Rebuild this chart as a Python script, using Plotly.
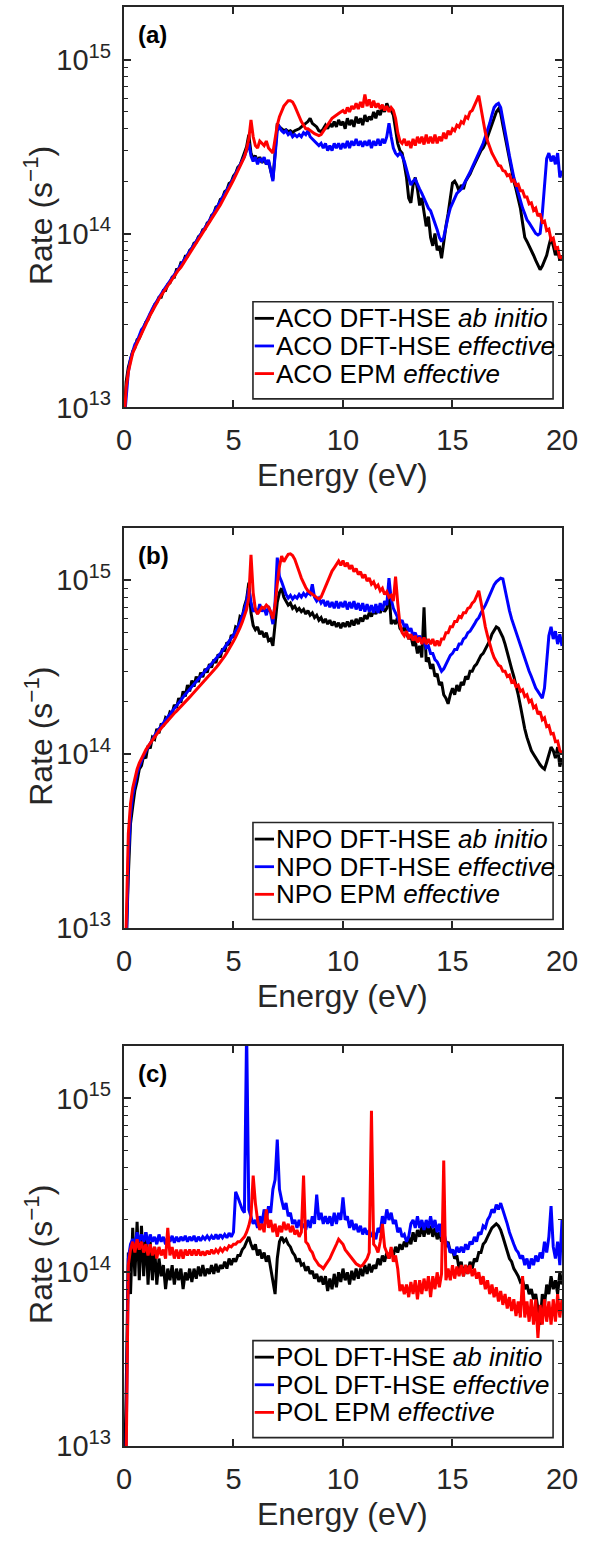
import math
import plotly.graph_objects as go

# Energy grid (eV), 0.1 eV steps from 0 to 20
ENERGY = [round(0.1 * i, 1) for i in range(201)]

# Scattering rates in units of 1e14 s^-1, one row per eV (x.0 ... x.9)
ACO_ABINITIO = [
    0.08, 0.14, 0.17, 0.19, 0.21, 0.22, 0.245, 0.25, 0.27, 0.285,
    0.31, 0.32, 0.345, 0.36, 0.39, 0.40, 0.43, 0.43, 0.47, 0.47,
    0.51, 0.52, 0.56, 0.56, 0.62, 0.62, 0.68, 0.68, 0.74, 0.74,
    0.80, 0.82, 0.88, 0.89, 0.96, 0.98, 1.05, 1.06, 1.15, 1.17,
    1.27, 1.30, 1.42, 1.44, 1.57, 1.60, 1.74, 1.78, 1.94, 1.98,
    2.14, 2.22, 2.40, 2.48, 2.68, 2.85, 3.15, 3.70, 2.90, 2.70,
    2.80, 2.60, 2.75, 2.55, 2.70, 2.50, 2.60, 2.30, 2.05, 2.90,
    4.30, 4.10, 4.00, 3.90, 3.95, 3.85, 3.90, 3.80, 3.90, 3.95,
    4.00, 4.10, 4.20, 4.30, 4.40, 4.60, 4.30, 4.20, 4.10, 3.90,
    3.85, 4.00, 4.20, 4.00, 4.30, 4.10, 4.40, 4.10, 4.50, 4.20,
    4.40, 4.00, 4.60, 4.20, 4.50, 4.10, 4.70, 4.30, 4.60, 4.20,
    4.80, 4.40, 4.70, 4.50, 5.00, 4.60, 5.10, 4.80, 5.30, 5.00,
    5.60, 5.20, 5.10, 4.80, 4.00, 3.30, 3.00, 2.90, 2.50, 2.10,
    1.60, 1.50, 1.90, 2.10, 1.80, 1.45, 1.60, 1.30, 1.10, 1.25,
    0.95, 0.85, 1.00, 0.80, 0.85, 0.72, 0.90, 1.10, 1.30, 1.60,
    1.95, 2.00, 1.90, 1.75, 1.90, 1.80, 2.00, 2.10, 2.20, 2.35,
    2.50, 2.60, 2.80, 3.00, 3.10, 3.30, 3.60, 3.90, 4.30, 4.70,
    5.00, 5.20, 4.90, 4.20, 3.60, 3.10, 2.70, 2.30, 2.00, 1.80,
    1.60, 1.40, 1.15, 0.95, 0.90, 0.85, 0.80, 0.75, 0.70, 0.65,
    0.62, 0.65, 0.70, 0.75, 0.85, 0.95, 0.85, 0.75, 0.80, 0.70,
    0.75,
]
ACO_EFFECTIVE = [
    0.08, 0.12, 0.16, 0.19, 0.21, 0.23, 0.24, 0.26, 0.28, 0.29,
    0.31, 0.33, 0.35, 0.37, 0.39, 0.41, 0.43, 0.45, 0.47, 0.49,
    0.51, 0.53, 0.55, 0.58, 0.60, 0.63, 0.66, 0.69, 0.72, 0.75,
    0.78, 0.82, 0.86, 0.90, 0.94, 0.98, 1.03, 1.08, 1.13, 1.19,
    1.25, 1.31, 1.38, 1.45, 1.52, 1.60, 1.68, 1.77, 1.87, 1.97,
    2.08, 2.20, 2.32, 2.45, 2.60, 2.78, 3.00, 3.30, 2.80, 2.60,
    2.75, 2.50, 2.70, 2.60, 2.75, 2.50, 2.65, 2.30, 2.00, 2.80,
    3.90, 4.10, 3.90, 3.80, 3.90, 3.70, 3.80, 3.60, 3.70, 3.60,
    3.70, 3.60, 3.80, 3.70, 3.90, 3.60, 3.50, 3.40, 3.30, 3.20,
    3.30, 3.10, 3.30, 3.00, 3.20, 3.00, 3.30, 3.10, 3.30, 3.05,
    3.30, 3.10, 3.40, 3.10, 3.40, 3.20, 3.50, 3.20, 3.40, 3.15,
    3.40, 3.20, 3.45, 3.10, 3.40, 3.20, 3.50, 3.20, 3.50, 3.30,
    3.60, 4.30, 3.60, 3.10, 2.90, 2.80, 2.90, 2.80, 2.60, 2.30,
    2.10, 1.90, 2.00, 2.05, 1.90, 1.80, 1.70, 1.60, 1.50, 1.40,
    1.35, 1.25, 1.15, 1.05, 0.95, 0.90, 0.95, 1.10, 1.25, 1.40,
    1.50, 1.60, 1.70, 1.75, 1.80, 1.90, 2.00, 2.10, 2.25, 2.40,
    2.55, 2.70, 2.90, 3.10, 3.30, 3.60, 3.90, 4.30, 4.80, 5.30,
    5.50, 5.60, 5.30, 4.60, 3.90, 3.30, 2.80, 2.40, 2.10, 1.90,
    1.70, 1.55, 1.40, 1.30, 1.20, 1.15, 1.10, 1.05, 1.00, 0.98,
    1.00, 1.30, 2.00, 2.70, 2.90, 2.60, 2.80, 2.50, 2.90, 2.10,
    2.30,
]
ACO_EPM = [
    0.08, 0.13, 0.16, 0.185, 0.205, 0.22, 0.235, 0.25, 0.265, 0.28,
    0.30, 0.32, 0.34, 0.36, 0.38, 0.40, 0.42, 0.44, 0.46, 0.48,
    0.50, 0.52, 0.54, 0.57, 0.59, 0.62, 0.64, 0.67, 0.70, 0.73,
    0.76, 0.80, 0.83, 0.87, 0.91, 0.95, 1.00, 1.04, 1.09, 1.14,
    1.20, 1.26, 1.32, 1.39, 1.46, 1.54, 1.62, 1.71, 1.81, 1.92,
    2.03, 2.15, 2.28, 2.42, 2.58, 2.75, 3.05, 3.50, 4.50, 3.60,
    3.20, 3.10, 3.40, 3.30, 3.20, 3.40, 3.10, 3.00, 2.90, 3.50,
    4.20, 4.70, 5.10, 5.40, 5.60, 5.80, 5.80, 5.70, 5.40, 5.00,
    4.70, 4.40, 4.20, 4.00, 4.00, 3.90, 3.80, 3.75, 3.70, 3.65,
    3.70, 3.85, 4.00, 4.20, 4.40, 4.60, 4.70, 4.85, 4.90, 5.00,
    5.10, 4.90, 5.30, 5.00, 5.40, 5.20, 5.60, 5.20, 5.70, 5.30,
    6.30, 5.40, 5.90, 5.30, 5.80, 5.30, 5.60, 5.20, 5.50, 5.10,
    5.40, 5.00, 5.30, 5.10, 4.60, 3.80, 3.40, 3.30, 3.50, 3.20,
    3.40, 3.10, 3.50, 3.20, 3.60, 3.30, 3.60, 3.25, 3.70, 3.30,
    3.60, 3.30, 3.70, 3.30, 3.60, 3.40, 3.80, 3.50, 3.90, 3.70,
    4.00, 3.90, 4.20, 4.10, 4.40, 4.30, 4.70, 4.60, 5.00, 5.10,
    5.50, 5.80, 6.20, 5.20, 4.40, 3.80, 3.40, 3.10, 2.90, 2.75,
    2.62, 2.46, 2.44, 2.30, 2.28, 2.15, 2.18, 2.00, 2.03, 1.90,
    1.92, 1.76, 1.76, 1.62, 1.62, 1.48, 1.50, 1.36, 1.40, 1.26,
    1.30, 1.16, 1.18, 1.04, 1.06, 0.92, 0.94, 0.82, 0.83, 0.72,
    0.74,
]

NPO_ABINITIO = [
    0.05, 0.08, 0.20, 0.40, 0.50, 0.62, 0.70, 0.82, 0.86, 0.98,
    0.95, 1.12, 1.08, 1.25, 1.22, 1.40, 1.32, 1.50, 1.45, 1.62,
    1.58, 1.75, 1.72, 1.92, 1.85, 2.10, 1.98, 2.30, 2.15, 2.50,
    2.30, 2.65, 2.45, 2.80, 2.60, 2.95, 2.78, 3.10, 2.95, 3.30,
    3.15, 3.50, 3.35, 3.75, 3.60, 4.05, 3.90, 4.40, 4.25, 4.85,
    4.70, 5.40, 5.30, 6.20, 6.10, 7.10, 7.80, 9.70, 6.50, 5.50,
    5.20, 5.40, 4.90, 5.10, 4.70, 5.00, 4.50, 4.60, 4.20, 5.50,
    7.50, 8.50, 9.00, 8.00, 7.60, 7.20, 7.40, 6.90, 7.10, 6.70,
    6.90, 6.60, 6.80, 6.40, 6.70, 6.30, 6.50, 6.10, 6.30, 5.90,
    6.10, 5.70, 6.00, 5.60, 5.90, 5.50, 5.80, 5.40, 5.70, 5.30,
    5.70, 5.40, 5.80, 5.40, 5.90, 5.50, 6.00, 5.60, 6.10, 5.80,
    6.30, 6.00, 6.50, 6.20, 6.70, 6.40, 6.90, 6.50, 7.00, 6.60,
    6.90, 8.80, 5.60, 5.90, 5.60, 6.20, 5.30, 5.10, 5.40, 4.90,
    4.60, 4.80, 4.20, 4.50, 3.80, 4.20, 3.60, 7.00, 3.40, 3.60,
    3.10, 3.30, 2.80, 2.90, 2.50, 2.60, 2.20, 2.10, 1.95, 2.20,
    2.40, 2.20, 2.50, 2.30, 2.60, 2.50, 2.80, 2.70, 3.00, 3.00,
    3.20, 3.30, 3.50, 3.70, 3.80, 4.00, 4.20, 4.50, 4.90, 5.20,
    5.40, 5.30, 5.00, 4.70, 4.30, 3.90, 3.50, 3.10, 2.80, 2.50,
    2.20, 1.90, 1.60, 1.40, 1.25, 1.15, 1.05, 1.00, 0.95, 0.90,
    0.87, 0.84, 0.82, 0.90, 1.00, 1.10, 1.05, 0.95, 1.10, 0.85,
    0.95,
]
NPO_EFFECTIVE = [
    0.05, 0.07, 0.25, 0.45, 0.58, 0.68, 0.78, 0.85, 0.92, 0.98,
    1.04, 1.10, 1.16, 1.22, 1.28, 1.34, 1.40, 1.46, 1.52, 1.58,
    1.64, 1.70, 1.77, 1.84, 1.91, 1.98, 2.05, 2.13, 2.21, 2.29,
    2.37, 2.45, 2.53, 2.62, 2.71, 2.80, 2.90, 3.00, 3.10, 3.20,
    3.30, 3.42, 3.54, 3.67, 3.80, 3.95, 4.10, 4.27, 4.45, 4.65,
    4.85, 5.10, 5.40, 5.75, 6.20, 6.80, 7.60, 9.00, 7.50, 6.60,
    6.90, 6.40, 7.30, 6.60, 7.00, 6.30, 7.10, 6.50, 5.60, 7.50,
    13.5, 10.5, 9.80, 9.00, 8.30, 7.90, 8.20, 7.80, 8.10, 7.90,
    8.30, 8.00, 8.40, 8.10, 8.50, 8.30, 9.50, 8.00, 7.60, 7.90,
    7.40, 7.70, 7.10, 7.60, 7.00, 7.50, 6.90, 7.60, 6.90, 7.50,
    7.00, 7.60, 6.80, 7.50, 6.90, 7.60, 6.80, 7.40, 6.70, 7.40,
    6.60, 7.30, 6.60, 7.20, 6.50, 7.30, 6.50, 7.40, 6.70, 7.60,
    7.20, 10.3, 7.80, 6.90, 6.40, 6.10, 5.70, 5.90, 5.40, 5.60,
    5.10, 5.30, 4.80, 5.00, 4.60, 4.80, 4.40, 4.50, 4.10, 4.20,
    3.80, 3.80, 3.50, 3.40, 3.20, 3.00, 3.10, 3.30, 3.50, 3.70,
    3.80, 4.00, 4.00, 4.30, 4.30, 4.60, 4.70, 5.00, 5.10, 5.40,
    5.60, 5.90, 6.10, 6.50, 6.80, 7.20, 7.70, 8.30, 8.90, 9.40,
    9.80, 10.1, 10.3, 10.2, 8.80, 7.60, 6.70, 6.00, 5.50, 5.00,
    4.60, 4.20, 3.80, 3.50, 3.20, 3.00, 2.80, 2.60, 2.40, 2.30,
    2.20, 2.10, 2.40, 3.60, 4.80, 5.40, 4.60, 5.10, 4.30, 4.90,
    4.20,
]
NPO_EPM = [
    0.05, 0.10, 0.35, 0.52, 0.64, 0.73, 0.82, 0.89, 0.95, 1.00,
    1.06, 1.11, 1.16, 1.21, 1.26, 1.31, 1.36, 1.41, 1.46, 1.51,
    1.56, 1.61, 1.66, 1.72, 1.77, 1.83, 1.89, 1.95, 2.01, 2.07,
    2.13, 2.20, 2.27, 2.34, 2.41, 2.49, 2.57, 2.65, 2.74, 2.83,
    2.93, 3.03, 3.14, 3.26, 3.38, 3.52, 3.67, 3.84, 4.02, 4.23,
    4.46, 4.72, 5.00, 5.35, 5.75, 6.20, 6.80, 8.00, 14.0, 8.50,
    6.80, 6.40, 6.70, 7.00, 6.90, 7.20, 7.00, 6.60, 6.00, 7.20,
    9.50, 12.0, 13.8, 12.8, 13.5, 14.1, 14.2, 13.9, 13.2, 12.3,
    11.2, 10.3, 9.60, 9.10, 8.70, 8.50, 8.30, 8.10, 7.90, 7.80,
    8.00, 8.60, 9.30, 10.0, 10.7, 11.3, 11.8, 12.3, 12.9, 12.2,
    13.0, 12.0, 12.6, 11.6, 12.2, 11.2, 11.7, 10.8, 11.2, 10.3,
    10.8, 9.90, 10.3, 9.50, 9.80, 9.10, 9.40, 8.70, 9.00, 8.30,
    8.60, 8.00, 8.20, 7.60, 10.5, 7.40, 5.60, 5.00, 4.80, 5.10,
    4.60, 4.90, 4.50, 4.80, 4.40, 4.70, 4.30, 4.70, 4.30, 4.60,
    4.30, 4.60, 4.20, 4.50, 4.20, 4.60, 4.60, 5.00, 5.00, 5.40,
    5.40, 5.80, 5.80, 6.20, 6.10, 6.50, 6.50, 6.90, 7.00, 7.40,
    7.60, 8.10, 8.70, 7.50, 6.30, 5.40, 4.80, 4.30, 3.90, 3.60,
    3.45, 3.25, 3.20, 3.00, 3.00, 2.80, 2.85, 2.60, 2.65, 2.45,
    2.50, 2.30, 2.35, 2.15, 2.20, 2.00, 2.05, 1.85, 1.90, 1.70,
    1.76, 1.58, 1.62, 1.44, 1.46, 1.31, 1.32, 1.18, 1.19, 1.05,
    1.02,
]

POL_ABINITIO = [
    0.05, 0.20, 1.30, 0.75, 1.80, 0.95, 1.95, 0.90, 1.85, 0.95,
    1.70, 0.85, 1.50, 0.90, 1.40, 0.85, 1.20, 0.95, 1.10, 0.80,
    1.05, 0.90, 1.10, 0.85, 1.05, 0.90, 1.05, 0.80, 1.00, 0.90,
    1.05, 0.88, 1.05, 0.92, 1.08, 0.95, 1.10, 0.95, 1.05, 0.98,
    1.10, 0.98, 1.12, 1.00, 1.10, 1.05, 1.15, 1.05, 1.20, 1.10,
    1.20, 1.15, 1.25, 1.25, 1.35, 1.40, 1.50, 1.60, 1.45, 1.35,
    1.45, 1.25, 1.35, 1.20, 1.30, 1.15, 1.25, 1.05, 0.90, 0.75,
    1.20, 1.50, 1.60, 1.50, 1.55, 1.45, 1.40, 1.30, 1.25, 1.15,
    1.20, 1.10, 1.12, 1.02, 1.08, 0.98, 1.02, 0.92, 0.98, 0.88,
    0.95, 0.85, 0.95, 0.78, 0.92, 0.80, 0.98, 0.82, 1.00, 0.88,
    1.05, 0.90, 1.00, 0.85, 1.02, 0.90, 1.05, 0.92, 1.05, 0.95,
    1.10, 0.98, 1.12, 1.00, 1.10, 1.05, 1.20, 1.10, 1.25, 1.15,
    1.30, 1.20, 1.35, 1.25, 1.40, 1.30, 1.45, 1.35, 1.50, 1.40,
    1.60, 1.45, 1.70, 1.50, 1.75, 1.60, 1.85, 1.60, 1.85, 1.65,
    1.85, 1.60, 1.80, 1.55, 1.70, 1.50, 1.60, 1.40, 1.50, 1.30,
    1.35, 1.20, 1.25, 1.05, 1.15, 0.95, 1.10, 0.98, 1.15, 1.05,
    1.20, 1.15, 1.30, 1.30, 1.45, 1.50, 1.60, 1.70, 1.80, 1.85,
    1.90, 1.85, 1.75, 1.60, 1.45, 1.35, 1.20, 1.15, 1.05, 1.00,
    0.95, 0.88, 0.90, 0.80, 0.85, 0.75, 0.80, 0.70, 0.75, 0.62,
    0.50, 0.75, 0.65, 0.85, 0.75, 0.95, 0.80, 0.90, 0.75, 1.00,
    0.85,
]
POL_EFFECTIVE = [
    0.05, 0.10, 1.20, 1.45, 1.55, 1.45, 1.70, 1.50, 1.65, 1.50,
    1.70, 1.45, 1.65, 1.50, 1.60, 1.45, 1.65, 1.50, 1.60, 1.45,
    1.60, 1.50, 1.62, 1.48, 1.60, 1.50, 1.60, 1.52, 1.62, 1.50,
    1.60, 1.52, 1.62, 1.50, 1.60, 1.52, 1.60, 1.55, 1.62, 1.55,
    1.62, 1.55, 1.65, 1.55, 1.65, 1.58, 1.65, 1.58, 1.68, 1.60,
    1.70, 2.90, 2.70, 2.50, 2.30, 2.20, 25.0, 2.30, 2.10, 1.90,
    2.00, 1.80, 2.10, 1.90, 2.30, 2.00, 2.40, 2.20, 3.00, 3.40,
    5.80, 3.00, 2.60, 2.30, 2.50, 2.10, 2.20, 1.90, 2.00, 1.80,
    2.00, 1.80, 1.90, 1.75, 2.00, 1.80, 2.10, 1.90, 2.80, 2.00,
    2.20, 1.90, 2.10, 1.90, 2.10, 1.85, 2.20, 1.90, 2.20, 2.00,
    2.70, 2.00, 2.10, 1.80, 2.00, 1.75, 1.90, 1.70, 1.85, 1.65,
    1.80, 1.65, 1.75, 1.60, 1.70, 1.55, 1.80, 1.70, 2.10, 1.90,
    2.30, 2.00, 2.20, 1.90, 2.00, 1.70, 1.80, 1.60, 1.65, 1.50,
    1.60, 1.90, 2.00, 1.80, 2.10, 1.80, 2.00, 1.75, 2.00, 1.80,
    2.10, 1.80, 2.00, 1.70, 1.90, 1.60, 1.70, 1.50, 1.45, 1.30,
    1.35, 1.25, 1.40, 1.30, 1.40, 1.30, 1.45, 1.35, 1.50, 1.45,
    1.60, 1.50, 1.70, 1.65, 1.85, 1.80, 2.00, 2.10, 2.30, 2.20,
    2.45, 2.30, 2.50, 2.30, 2.10, 1.90, 1.70, 1.55, 1.45, 1.35,
    1.30, 1.20, 1.25, 1.10, 1.20, 1.05, 1.20, 1.10, 1.25, 1.15,
    1.30, 1.20, 1.50, 1.30, 1.60, 2.40, 1.40, 1.20, 1.50, 1.10,
    2.00,
]
POL_EPM = [
    0.05, 0.08, 1.10, 1.35, 1.50, 1.30, 1.55, 1.35, 1.50, 1.30,
    1.45, 1.25, 1.45, 1.25, 1.40, 1.20, 1.40, 1.25, 1.35, 1.20,
    1.80, 1.25, 1.40, 1.20, 1.35, 1.20, 1.35, 1.20, 1.35, 1.25,
    1.35, 1.25, 1.35, 1.25, 1.35, 1.25, 1.32, 1.25, 1.33, 1.27,
    1.35, 1.28, 1.35, 1.30, 1.37, 1.32, 1.38, 1.35, 1.42, 1.40,
    1.45, 1.45, 1.50, 1.50, 1.55, 1.60, 1.70, 1.85, 2.10, 3.60,
    2.50, 2.00, 1.75, 1.90, 1.70, 2.30, 1.80, 2.00, 1.70, 1.90,
    1.60, 1.85, 1.70, 1.95, 1.75, 1.90, 1.70, 1.85, 1.65, 1.75,
    1.60, 1.70, 3.60, 1.50, 1.45, 1.35, 1.30, 1.20, 1.15, 1.10,
    1.08, 1.05, 1.10, 1.15, 1.20, 1.28, 1.35, 1.45, 1.55, 1.50,
    1.45, 1.35, 1.30, 1.25, 1.20, 1.15, 1.12, 1.10, 1.08, 1.10,
    1.15, 1.20, 1.30, 8.50, 1.45, 1.40, 1.30, 1.50, 1.90, 1.40,
    1.30, 1.20, 1.40, 1.15, 1.25, 1.05, 0.78, 0.85, 0.75, 0.85,
    0.72, 0.88, 0.75, 0.90, 0.70, 0.90, 0.75, 0.92, 0.78, 0.95,
    0.72, 0.95, 0.80, 1.00, 0.82, 0.98, 4.40, 0.90, 1.05, 0.90,
    1.10, 0.92, 1.08, 0.95, 1.10, 0.95, 1.10, 0.98, 1.10, 0.95,
    1.05, 0.92, 1.00, 0.85, 0.95, 0.80, 0.90, 0.75, 0.85, 0.72,
    0.82, 0.68, 0.78, 0.65, 0.75, 0.62, 0.72, 0.60, 0.70, 0.56,
    0.68, 0.55, 0.95, 0.55, 0.68, 0.52, 0.70, 0.50, 0.70, 0.42,
    0.65, 0.50, 0.70, 0.52, 0.68, 0.50, 0.70, 0.52, 0.75, 0.55,
    0.70,
]

RATE_UNIT = 1e14  # s^-1
PANELS = [
    ("(a)", "ACO", ACO_ABINITIO, ACO_EFFECTIVE, ACO_EPM),
    ("(b)", "NPO", NPO_ABINITIO, NPO_EFFECTIVE, NPO_EPM),
    ("(c)", "POL", POL_ABINITIO, POL_EFFECTIVE, POL_EPM),
]
SERIES_STYLE = [
    ("DFT-HSE <i>ab initio</i>", "#000000"),
    ("DFT-HSE <i>effective</i>", "#0000FF"),
    ("EPM <i>effective</i>", "#FF0000"),
]
X_TICKS = [0, 5, 10, 15, 20]
Y_MAJOR = [1e13, 1e14, 1e15]
Y_MAJOR_TEXT = ["10<sup>13</sup>", "10<sup>14</sup>", "10<sup>15</sup>"]
Y_MINOR = [m * 10 ** e for e in (13, 14) for m in range(2, 10)] + [2e15]
Y_MAX = 2e15

for arr in (ACO_ABINITIO, ACO_EFFECTIVE, ACO_EPM, NPO_ABINITIO, NPO_EFFECTIVE,
            NPO_EPM, POL_ABINITIO, POL_EFFECTIVE, POL_EPM):
    assert len(arr) == len(ENERGY)

# ---- page geometry (pixels) ----
W, H = 610, 1543
AX_LEFT, AX_RIGHT = 120.7, 576.7
PANEL_TOPS = [7.3, 533.5, 1057.0]
PANEL_H = 404.4

INK = "#262626"
FONT = "Liberation Sans, Arial, Helvetica, sans-serif"

fig = go.Figure()
layout = dict(
    width=W, height=H,
    margin=dict(l=0, r=0, t=0, b=0),
    paper_bgcolor="white", plot_bgcolor="white",
    showlegend=False,
    font=dict(family=FONT, color=INK),
)
shapes, annotations = [], []

for k, (tag, mat, abi, eff, epm) in enumerate(PANELS):
    n = "" if k == 0 else str(k + 1)
    xa, ya = "x" + n, "y" + n
    top = PANEL_TOPS[k]
    bottom = top + PANEL_H
    ydom = [1 - bottom / H, 1 - top / H]

    for values, (name, color) in zip((abi, eff, epm), SERIES_STYLE):
        fig.add_trace(go.Scatter(
            x=ENERGY, y=[v * RATE_UNIT for v in values],
            mode="lines", line=dict(color=color, width=3.0),
            name=f"{mat} {name}", xaxis=xa, yaxis=ya,
        ))

    layout["xaxis" + n] = dict(
        domain=[AX_LEFT / W, AX_RIGHT / W], anchor=ya, range=[0, 20],
        tickmode="array", tickvals=X_TICKS, ticks="inside", ticklen=7,
        tickwidth=1.5, tickcolor=INK, showline=True, linecolor=INK,
        linewidth=2, mirror="ticks", showgrid=False, zeroline=False,
        tickfont=dict(size=29, family=FONT, color=INK), ticklabelstandoff=6,
    )
    layout["yaxis" + n] = dict(
        domain=ydom, anchor=xa, type="log",
        range=[13, math.log10(Y_MAX)],
        tickmode="array", tickvals=Y_MAJOR, ticktext=Y_MAJOR_TEXT,
        ticks="inside", ticklen=7, tickwidth=1.5, tickcolor=INK,
        minor=dict(tickmode="array", tickvals=Y_MINOR, ticks="inside",
                   ticklen=4, tickwidth=1.3, tickcolor=INK, showgrid=False),
        showline=True, linecolor=INK, linewidth=2, mirror="ticks",
        showgrid=False, zeroline=False,
        tickfont=dict(size=29, family=FONT, color=INK), ticklabelstandoff=5,
    )

    xd, yd = xa + " domain", ya + " domain"

    # panel tag
    annotations.append(dict(
        text=f"<b>{tag}</b>", xref=xd, yref=yd, x=0.028, y=0.932,
        xanchor="left", yanchor="middle", showarrow=False,
        font=dict(size=24, family=FONT, color="#000000"),
    ))
    # axis titles
    annotations.append(dict(
        text="Rate (s<sup>−1</sup>)", xref="paper", yref=yd,
        x=32 / W, y=0.48, xanchor="center", yanchor="middle",
        textangle=-90, showarrow=False,
        font=dict(size=32, family=FONT, color=INK),
    ))
    annotations.append(dict(
        text="Energy (eV)", xref=xd, yref=yd, x=0.5, y=-0.17,
        xanchor="center", yanchor="middle", showarrow=False,
        font=dict(size=32, family=FONT, color=INK),
    ))

    # legend box
    shapes.append(dict(
        type="rect", xref=xd, yref=yd, x0=0.2945, x1=0.9796,
        y0=0.0215, y1=0.264, line=dict(color=INK, width=1.6),
        fillcolor="white", layer="above",
    ))
    for j, (name, color) in enumerate(SERIES_STYLE):
        yrow = 0.2226 - j * 0.069
        shapes.append(dict(
            type="line", xref=xd, yref=yd, x0=0.2985, x1=0.3425,
            y0=yrow, y1=yrow, line=dict(color=color, width=2.8),
            layer="above",
        ))
        annotations.append(dict(
            text=f"{mat} {name}", xref=xd, yref=yd, x=0.343, y=yrow,
            xanchor="left", yanchor="middle", showarrow=False,
            font=dict(size=26, family=FONT, color="#000000"),
        ))

layout["shapes"] = shapes
layout["annotations"] = annotations
fig.update_layout(**layout)
fig.write_html("out.html")
